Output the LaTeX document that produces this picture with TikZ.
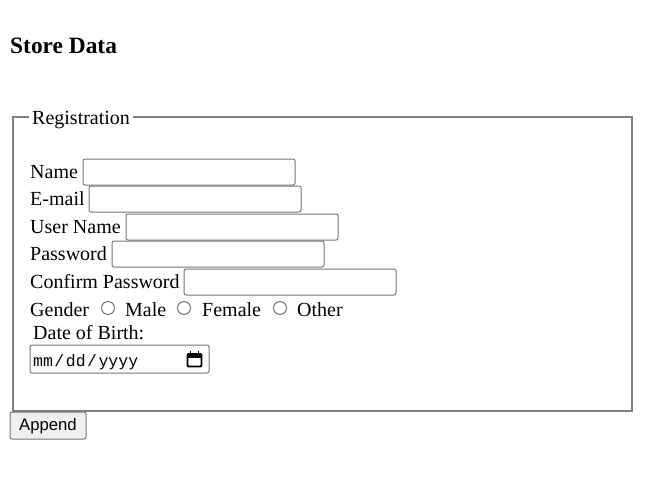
\documentclass[tikz,border=0pt]{standalone}
\usepackage{fontspec}
\setmainfont{Liberation Serif}
\setsansfont{Liberation Sans}
\setmonofont{Liberation Mono}
\definecolor{bordergray}{HTML}{767676}
\definecolor{fsgray}{HTML}{808080}
\definecolor{btnfill}{HTML}{EFEFEF}
\begin{document}
\begin{tikzpicture}[x=1pt,y=-1pt,
  lbl/.style={anchor=base west,inner sep=0pt,font=\fontsize{20}{24}\selectfont},
  inbox/.style={draw=bordergray,line width=1pt,rounded corners=2pt},
  radio/.style={draw=bordergray,line width=1pt,fill=white}]
\useasboundingbox[fill=white] (0,0) rectangle (658,487);
% title
\node[anchor=base west,inner sep=0pt,font=\fontsize{23.4}{28}\selectfont\bfseries] (title) at (10,53) {Store Data};
% fieldset
\draw[fsgray,line width=1.3pt] (29,117) -- (13,117) -- (13,411) -- (632,411) -- (632,117) -- (133,117);
\node[lbl] (legend) at (32,124) {Registration};
% rows
\node[lbl] (name) at (30,178) {Name};
\draw[inbox] (83,159) rectangle (295,185);
\node[lbl] (email) at (30,205) {E-mail};
\draw[inbox] (89,186) rectangle (301,212);
\node[lbl] (uname) at (30,233) {User Name};
\draw[inbox] (126,214) rectangle (338,240);
\node[lbl] (pass) at (30,260) {Password};
\draw[inbox] (112,241) rectangle (324,267);
\node[lbl] (cpass) at (30,288) {Confirm Password};
\draw[inbox] (184,269) rectangle (396,295);
% gender
\node[lbl] (gender) at (30,316) {Gender};
\draw[radio] (108,308) circle (6.5);
\node[lbl] (male) at (125,316) {Male};
\draw[radio] (184,308) circle (6.5);
\node[lbl] (female) at (202,316) {Female};
\draw[radio] (280,308) circle (6.5);
\node[lbl] (other) at (297,316) {Other};
% date of birth
\node[lbl] (dob) at (33,339) {Date of Birth:};
\draw[inbox] (30,345) rectangle (209,373);
\node[anchor=base west,inner sep=0pt,font=\ttfamily\fontsize{16.5}{18}\selectfont] (date) at (33,366) {mm\hspace{1.5pt}/\hspace{1.5pt}dd\hspace{1.5pt}/\hspace{1.5pt}yyyy};
% calendar icon
\draw[black,line width=1.8pt,rounded corners=1pt] (187.5,354) rectangle (201.5,366.5);
\fill[black] (187,353.5) rectangle (202,357.5);
\draw[black,line width=1.6pt] (190.5,351) -- (190.5,354);
\draw[black,line width=1.6pt] (198.5,351) -- (198.5,354);
% button
\draw[draw=bordergray,fill=btnfill,line width=1pt,rounded corners=2pt] (10,412) rectangle (86,439);
\node[anchor=base,font=\sffamily\fontsize{16.7}{20}\selectfont,inner sep=0pt] (append) at (48,430.5) {Append};
\end{tikzpicture}
\end{document}
